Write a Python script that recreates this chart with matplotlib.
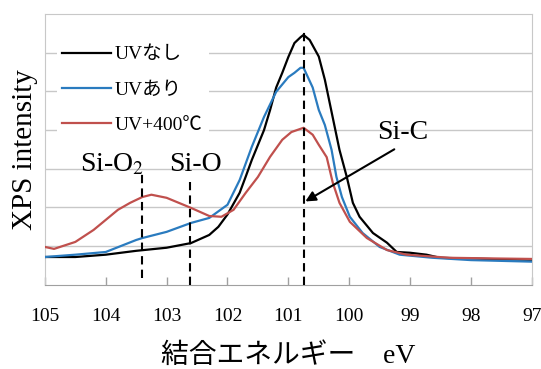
import numpy as np
import matplotlib
matplotlib.use("Agg")
import matplotlib.pyplot as plt

plt.rcParams['font.family'] = ['Liberation Serif', 'Noto Sans CJK JP']
plt.rcParams['mathtext.fontset'] = 'stix'

#spectra (binding energy eV, intensity in grid units)
uv_none_x = [105.0, 104.5, 104.0, 103.5, 103.0, 102.6, 102.3, 102.15, 102.0, 101.8, 101.7, 101.6, 101.4, 101.3,
             101.2, 101.1, 101.0, 100.9, 100.8, 100.75, 100.65, 100.5, 100.4, 100.16, 100.04,
             99.94, 99.83, 99.61, 99.38, 99.22, 99.0, 98.73, 98.51, 98.0, 97.5, 97.0]
uv_none_y = [0.72, 0.72, 0.78, 0.88, 0.96, 1.08, 1.29, 1.5, 1.82, 2.38, 2.8, 3.23, 4.0, 4.52,
             5.1, 5.48, 5.89, 6.25, 6.4, 6.46, 6.33, 5.9, 5.3, 3.49, 2.79,
             2.12, 1.76, 1.34, 1.09, 0.85, 0.83, 0.78, 0.70, 0.68, 0.66, 0.65]

uv_on_x = [105.0, 104.5, 104.0, 103.5, 103.4, 103.0, 102.6, 102.3, 102.0, 101.8, 101.6, 101.4,
           101.2, 101.0, 100.9, 100.8, 100.75, 100.6, 100.5, 100.4, 100.29, 100.21, 100.12,
           99.99, 99.78, 99.5, 99.17, 98.63, 98.0, 97.5, 97.0]
uv_on_y = [0.72, 0.78, 0.85, 1.16, 1.21, 1.37, 1.60, 1.73, 2.07, 2.71, 3.57, 4.34,
           4.99, 5.37, 5.48, 5.61, 5.61, 5.1, 4.52, 4.13, 3.49, 2.79, 2.27,
           1.76, 1.34, 0.98, 0.78, 0.70, 0.64, 0.62, 0.60]

uv_400_x = [105.0, 104.85, 104.5, 104.2, 104.0, 103.8, 103.6, 103.4, 103.25, 103.0, 102.8, 102.6,
            102.3, 102.1, 101.9, 101.7, 101.5, 101.3, 101.1, 100.95, 100.75, 100.6, 100.5,
            100.37, 100.27, 100.16, 99.99, 99.71, 99.38, 99.06, 98.35, 97.5, 97.0]
uv_400_y = [0.98, 0.93, 1.11, 1.42, 1.68, 1.94, 2.12, 2.27, 2.33, 2.25, 2.12, 1.99,
            1.78, 1.76, 1.94, 2.38, 2.79, 3.31, 3.75, 3.95, 4.06, 3.88, 3.62,
            3.3, 2.64, 2.12, 1.63, 1.21, 0.90, 0.78, 0.70, 0.68, 0.67]

labels = ["UVなし", "UVあり", "UV+400℃"]
colors = ["black", "#2a7bbf", "#c0504d"]

#reference peak positions
si_o2_x = 103.4
si_o_x = 102.62
si_c_x = 100.75

fig = plt.figure(figsize=(5.41, 3.69), dpi=100)
ax = fig.add_axes([0.083, 0.228, 0.900, 0.734])

for xs, ys, lab, c in zip([uv_none_x, uv_on_x, uv_400_x], [uv_none_y, uv_on_y, uv_400_y], labels, colors):
    ax.plot(xs, ys, color=c, lw=1.6, label=lab, zorder=3)

#dashed peak markers
ax.plot([si_o2_x, si_o2_x], [0.18, 2.97], color="black", lw=1.5, ls=(0, (4, 2.5)), zorder=4)
ax.plot([si_o_x, si_o_x], [0.0, 2.65], color="black", lw=1.5, ls=(0, (4, 2.5)), zorder=4)
ax.plot([si_c_x, si_c_x], [0.0, 6.64], color="black", lw=1.5, ls=(0, (4, 2.5)), zorder=4)

ax.text(103.9, 3.1, "Si-O$_2$", fontsize=20, ha="center", va="center")
ax.text(102.52, 3.1, "Si-O", fontsize=20, ha="center", va="center")
ax.text(99.12, 3.93, "Si-C", fontsize=20, ha="center", va="center")
ax.annotate("", xy=(100.76, 2.12), xytext=(99.22, 3.54),
            arrowprops=dict(arrowstyle="-|>,head_length=0.6,head_width=0.3", color="black", lw=1.5), zorder=5)

ax.set_xlim(105, 97)
ax.set_ylim(0, 7)
ax.set_xticks(np.arange(97, 106, 1))
ax.set_yticks(np.arange(1, 7, 1))
ax.tick_params(axis="y", length=0, labelleft=False)
ax.tick_params(axis="x", direction="in", length=6, width=1, color="#a0a0a0", labelsize=14, pad=17)
ax.grid(axis="y", color="#c8c8c8", lw=1)
for s in ax.spines.values():
    s.set_color("#c8c8c8")
ax.spines["bottom"].set_color("#a0a0a0")

ax.set_xlabel("結合エネルギー　eV", fontsize=20, labelpad=13)
ax.set_ylabel("XPS intensity", fontsize=21, labelpad=5)

leg = ax.legend(loc="upper left", bbox_to_anchor=(0.004, 0.94), fontsize=14, handlelength=2.5,
                handletextpad=0.2, labelspacing=0.9, borderpad=0.3, frameon=True,
                facecolor="white", edgecolor="none", framealpha=1)
leg.set_zorder(2)

plt.savefig("out.png", dpi=100)
